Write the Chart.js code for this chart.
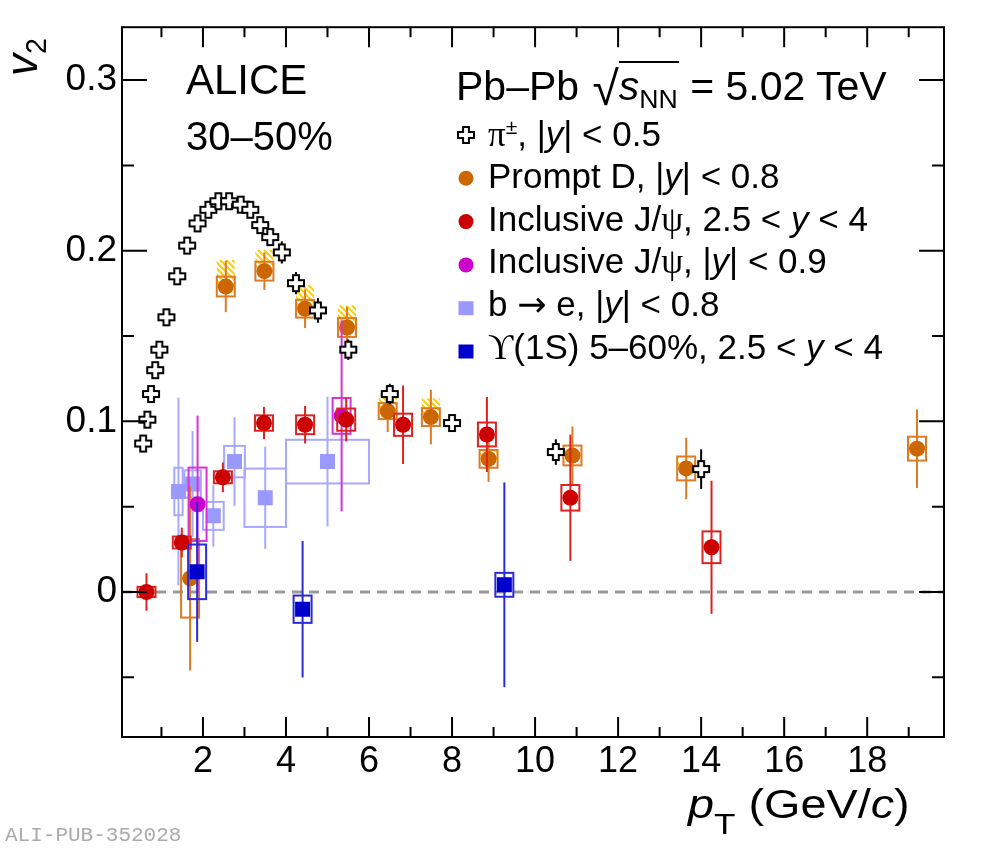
<!DOCTYPE html>
<html>
<head>
<meta charset="utf-8">
<script src="https://cdn.jsdelivr.net/npm/chart.js@4.4.1/dist/chart.umd.min.js"></script>
<style>
  body { margin: 0; background: #fff; }
  #wrap { position: relative; width: 1000px; height: 848px; font-family: "Liberation Sans", Arial, sans-serif; color: #000; }
  canvas { position: absolute; left: 0; top: 0; }
  .t { position: absolute; white-space: nowrap; line-height: 1; }
  .gr { font-family: "Liberation Serif", "DejaVu Serif", serif; }
  .sub { font-size: 0.65em; position: relative; top: 0.3em; }
  .sup { font-size: 0.6em; position: relative; top: -0.55em; }
</style>
</head>
<body>
<div id="wrap">
  <canvas id="chart" width="1000" height="848"></canvas>

  <div class="t" style="left:186px;top:59px;font-size:42px">ALICE</div>
  <div class="t" style="left:186px;top:116px;font-size:40px">30–50%</div>

  <div class="t" style="left:456px;top:60px;font-size:41px">Pb–Pb <span style="font-size:48px;position:relative;top:5px;margin-left:2px">√</span><span style="border-top:2px solid #000;padding-right:1px"><i>s</i><span class="sub">NN</span></span> = 5.02 TeV</div>

  <div id="legend"></div>

  <div class="t" style="left:0px;top:76px;font-size:44px;transform:rotate(-90deg);transform-origin:0 0"><i>v</i><span class="sub">2</span></div>
  <div class="t" style="left:688px;top:784px;font-size:40px;transform:scaleX(1.17);transform-origin:0 0"><i>p</i><span class="sub" style="font-size:30px;top:16px">T</span> (GeV/<i>c</i>)</div>

  <div class="t" style="left:5px;top:825px;font-size:21px;font-family:'Liberation Mono',monospace;color:#aaa">ALI-PUB-352028</div>
</div>

<script>
// Eksen sınırları ve tik değerleri
const xMin = 0.05, xMax = 19.85;
const yMin = -0.085, yMax = 0.331;
const xTicks = [2, 4, 6, 8, 10, 12, 14, 16, 18];
const yTicks = [0, 0.1, 0.2, 0.3];
const xMinor = [1, 3, 5, 7, 9, 11, 13, 15, 17, 19];
const yMinor = [-0.05, 0.05, 0.15, 0.25];

// pi+- |y| < 0.5
const pionPt = [0.56, 0.66, 0.75, 0.85, 0.95, 1.12, 1.38, 1.62, 1.87, 2.13, 2.37, 2.63, 2.91, 3.14, 3.38, 3.62, 3.9, 4.24, 4.77, 5.5, 6.5, 8.0, 10.5, 14.0];
const pionV2 = [0.087, 0.101, 0.116, 0.130, 0.142, 0.161, 0.185, 0.203, 0.216, 0.224, 0.229, 0.229, 0.227, 0.224, 0.215, 0.208, 0.199, 0.181, 0.165, 0.142, 0.116, 0.099, 0.082, 0.072];
const pionStat = [0.002, 0.002, 0.002, 0.002, 0.002, 0.002, 0.002, 0.002, 0.002, 0.002, 0.002, 0.002, 0.002, 0.003, 0.003, 0.004, 0.0065, 0.0065, 0.0072, 0.006, 0.006, 0.004, 0.0075, 0.0116];

// Prompt D |y| < 0.8
const dPt = [1.69, 2.55, 3.48, 4.46, 5.47, 6.45, 7.49, 8.88, 10.9, 13.64, 19.2];
const dV2 = [0.008, 0.179, 0.188, 0.166, 0.155, 0.106, 0.1025, 0.078, 0.080, 0.0724, 0.084];
const dStat = [0.054, 0.015, 0.011, 0.0113, 0.012, 0.0123, 0.016, 0.0135, 0.017, 0.018, 0.023];
const dSyst = [0.023, 0.0058, 0.0055, 0.0052, 0.0055, 0.0047, 0.0052, 0.0052, 0.0058, 0.007, 0.007];
const dHatch = [0, 0.0156, 0.0126, 0.014, 0.013, 0.0096, 0.011, 0.006, 0.004, 0.004, 0.003];

// Inclusive J/psi 2.5 < y < 4
const jpsiFwdPt = [0.64, 1.49, 2.48, 3.47, 4.46, 5.45, 6.82, 8.84, 10.85, 14.25];
const jpsiFwdV2 = [0.0, 0.029, 0.0672, 0.099, 0.098, 0.101, 0.098, 0.0923, 0.0552, 0.0262];
const jpsiFwdStat = [0.011, 0.0087, 0.0087, 0.0095, 0.011, 0.0128, 0.023, 0.022, 0.037, 0.039];
const jpsiFwdSyst = [0.003, 0.0035, 0.0035, 0.0045, 0.0055, 0.0065, 0.0065, 0.007, 0.0075, 0.0093];

// Inclusive J/psi |y| < 0.9
const jpsiMidPt = [1.87, 5.34];
const jpsiMidV2 = [0.0514, 0.1032];
const jpsiMidStat = [0.052, 0.056];
const jpsiMidSyst = [0.0215, 0.0105];

// b -> e |y| < 0.8
const bePt = [1.41, 1.75, 2.25, 2.76, 3.5, 5.0];
const beV2 = [0.0589, 0.0633, 0.0446, 0.0764, 0.0552, 0.0764];
const beStat = [0.055, 0.031, 0.018, 0.026, 0.030, 0.038];
const beSyst = [0.0139, 0.008, 0.0082, 0.0092, 0.0171, 0.0128];
const beBinHalf = [0.1, 0.2, 0.25, 0.25, 0.5, 1.0];

// Upsilon(1S) 5-60%, 2.5 < y < 4
const upsPt = [1.86, 4.4, 9.26];
const upsV2 = [0.0118, -0.0101, 0.0042];
const upsStat = [0.041, 0.040, 0.060];
const upsSyst = [0.016, 0.008, 0.007];

const FONT = '"Liberation Sans", Arial, sans-serif';
const BOX_HALF = 9;

// Açık artı işareti (ROOT marker 28)
function makeCross(size) {
  const c = document.createElement('canvas');
  c.width = c.height = size + 4;
  const g = c.getContext('2d');
  const m = c.width / 2, a = size / 2, b = size / 5.5;
  const pts = [[-b, -a], [b, -a], [b, -b], [a, -b], [a, b], [b, b], [b, a], [-b, a], [-b, b], [-a, b], [-a, -b], [-b, -b]];
  g.beginPath();
  pts.forEach(([px, py], i) => i ? g.lineTo(m + px, m + py) : g.moveTo(m + px, m + py));
  g.closePath();
  g.fillStyle = '#fff';
  g.fill();
  g.lineWidth = 2;
  g.strokeStyle = '#000';
  g.stroke();
  return c;
}
const crossImg = makeCross(16);

function pts(xs, ys) {
  return xs.map((x, i) => ({ x, y: ys[i] }));
}

const legendRows = [
  { html: '<span class="gr">π</span><span class="sup">±</span>, |<i>y</i>| &lt; 0.5', marker: 'cross' },
  { html: 'Prompt D, |<i>y</i>| &lt; 0.8', marker: 'circle', color: '#cc6600' },
  { html: 'Inclusive J/<span class="gr">ψ</span>, 2.5 &lt; <i>y</i> &lt; 4', marker: 'circle', color: '#cc0000' },
  { html: 'Inclusive J/<span class="gr">ψ</span>, |<i>y</i>| &lt; 0.9', marker: 'circle', color: '#cc00cc' },
  { html: 'b <span style="font-family:\'DejaVu Sans\'">→</span> e, |<i>y</i>| &lt; 0.8', marker: 'rect', color: '#9999ff' },
  { html: '<span class="gr">ϒ</span>(1S) 5–60%, 2.5 &lt; <i>y</i> &lt; 4', marker: 'rect', color: '#0000cc' }
];

// Lejant metinleri
const legendEl = document.getElementById('legend');
legendRows.forEach((r, i) => {
  const d = document.createElement('div');
  d.className = 't';
  d.style.left = '488px';
  d.style.top = (115.5 + i * 42.6) + 'px';
  d.style.fontSize = '35px';
  d.innerHTML = r.html;
  legendEl.appendChild(d);
});

function hatch(ctx, l, t, w, h) {
  ctx.save();
  ctx.beginPath();
  ctx.rect(l, t, w, h);
  ctx.clip();
  ctx.strokeStyle = '#ffcc00';
  ctx.lineWidth = 2;
  ctx.beginPath();
  for (let k = -h; k < w + h; k += 6) {
    ctx.moveTo(l + k, t);
    ctx.lineTo(l + k + h, t + h);
  }
  ctx.stroke();
  ctx.restore();
}

const errorPlugin = {
  id: 'errors',
  beforeDatasetsDraw(chart) {
    const { ctx, chartArea: a, scales: { y } } = chart;
    const y0 = y.getPixelForValue(0);
    ctx.save();
    ctx.strokeStyle = '#999';
    ctx.lineWidth = 3;
    ctx.setLineDash([10, 7]);
    ctx.beginPath();
    ctx.moveTo(a.left, y0);
    ctx.lineTo(a.right, y0);
    ctx.stroke();
    ctx.restore();
  },
  beforeDatasetDraw(chart, args) {
    const ds = chart.data.datasets[args.index];
    const e = ds.err;
    if (!e) return;
    const { ctx, scales: { x, y } } = chart;
    ctx.save();
    ds.data.forEach((p, i) => {
      const px = x.getPixelForValue(p.x);
      const py = y.getPixelForValue(p.y);
      const hw = e.binHalf ? x.getPixelForValue(p.x + e.binHalf[i]) - px : BOX_HALF;
      if (e.hatch && e.hatch[i] > 0) {
        const top = y.getPixelForValue(p.y + e.hatch[i]);
        hatch(ctx, px - BOX_HALF, top, 2 * BOX_HALF, py - top);
      }
      if (e.syst) {
        const t = y.getPixelForValue(p.y + e.syst[i]);
        const b = y.getPixelForValue(p.y - e.syst[i]);
        ctx.strokeStyle = e.color;
        ctx.lineWidth = 2;
        ctx.strokeRect(px - hw, t, 2 * hw, b - t);
      }
      ctx.strokeStyle = e.color;
      ctx.lineWidth = 2;
      ctx.beginPath();
      ctx.moveTo(px, y.getPixelForValue(p.y + e.stat[i]));
      ctx.lineTo(px, y.getPixelForValue(p.y - e.stat[i]));
      ctx.stroke();
    });
    ctx.restore();
  },
  afterDraw(chart) {
    const { ctx, chartArea: a, scales: { x, y } } = chart;
    ctx.save();
    ctx.strokeStyle = '#000';
    ctx.lineWidth = 2;
    ctx.strokeRect(a.left, a.top, a.right - a.left, a.bottom - a.top);
    ctx.beginPath();
    // x tikleri (alt ve üst, içe doğru)
    [[xTicks, 20], [xMinor, 10]].forEach(([vals, len]) => vals.forEach(v => {
      const px = x.getPixelForValue(v);
      ctx.moveTo(px, a.bottom); ctx.lineTo(px, a.bottom - len);
      ctx.moveTo(px, a.top); ctx.lineTo(px, a.top + len);
    }));
    // y tikleri (sol ve sağ)
    [[yTicks, 25], [yMinor, 12]].forEach(([vals, len]) => vals.forEach(v => {
      const py = y.getPixelForValue(v);
      ctx.moveTo(a.left, py); ctx.lineTo(a.left + len, py);
      ctx.moveTo(a.right, py); ctx.lineTo(a.right - len, py);
    }));
    ctx.stroke();

    // Lejant işaretleri
    legendRows.forEach((r, i) => {
      const cx = 466, cy = 135 + i * 43.3;
      if (r.marker === 'cross') {
        ctx.drawImage(crossImg, cx - crossImg.width / 2, cy - crossImg.height / 2);
      } else if (r.marker === 'circle') {
        ctx.fillStyle = r.color;
        ctx.beginPath();
        ctx.arc(cx, cy, 7.5, 0, Math.PI * 2);
        ctx.fill();
      } else {
        ctx.fillStyle = r.color;
        ctx.fillRect(cx - 7.5, cy - 7, 15, 14);
      }
    });
    ctx.restore();
  }
};

const sq = 10.6;
new Chart(document.getElementById('chart'), {
  type: 'scatter',
  data: {
    datasets: [
      { data: pts(pionPt, pionV2), pointStyle: crossImg, err: { stat: pionStat, color: '#000' } },
      { data: pts(upsPt, upsV2), pointStyle: 'rect', pointRadius: sq, backgroundColor: '#0000cc',
        err: { stat: upsStat, syst: upsSyst, color: '#2a2ad8' } },
      { data: pts(jpsiFwdPt, jpsiFwdV2), pointStyle: 'circle', pointRadius: 8, backgroundColor: '#cc0000',
        err: { stat: jpsiFwdStat, syst: jpsiFwdSyst, color: '#dd2222' } },
      { data: pts(jpsiMidPt, jpsiMidV2), pointStyle: 'circle', pointRadius: 8, backgroundColor: '#cc00cc',
        err: { stat: jpsiMidStat, syst: jpsiMidSyst, color: '#d633d6' } },
      { data: pts(dPt, dV2), pointStyle: 'circle', pointRadius: 8, backgroundColor: '#cc6600',
        err: { stat: dStat, syst: dSyst, hatch: dHatch, color: '#dd7a22' } },
      { data: pts(bePt, beV2), pointStyle: 'rect', pointRadius: sq, backgroundColor: '#9999ff',
        err: { stat: beStat, syst: beSyst, binHalf: beBinHalf, color: '#a8a8ff' } }
    ].map(d => Object.assign({ borderWidth: 0, pointHoverRadius: d.pointRadius }, d))
  },
  options: {
    responsive: false,
    animation: false,
    devicePixelRatio: 1,
    layout: { padding: { top: 20, right: 56, left: 0, bottom: 0 } },
    plugins: { legend: { display: false }, tooltip: { enabled: false } },
    scales: {
      x: {
        type: 'linear', min: xMin, max: xMax,
        grid: { display: false, drawTicks: false }, border: { display: false },
        afterBuildTicks: s => { s.ticks = xTicks.map(v => ({ value: v })); },
        afterFit: s => { s.height = 111; },
        ticks: { font: { family: FONT, size: 36 }, color: '#000', padding: 3, maxRotation: 0, autoSkip: false }
      },
      y: {
        type: 'linear', min: yMin, max: yMax,
        grid: { display: false, drawTicks: false }, border: { display: false },
        afterBuildTicks: s => { s.ticks = yTicks.map(v => ({ value: v })); },
        afterFit: s => { s.width = 122; },
        ticks: { font: { family: FONT, size: 37 }, color: '#000', padding: 5, autoSkip: false,
          callback: v => v === 0 ? '0' : String(Math.round(v * 10) / 10) }
      }
    }
  },
  plugins: [errorPlugin]
});
</script>
</body>
</html>
